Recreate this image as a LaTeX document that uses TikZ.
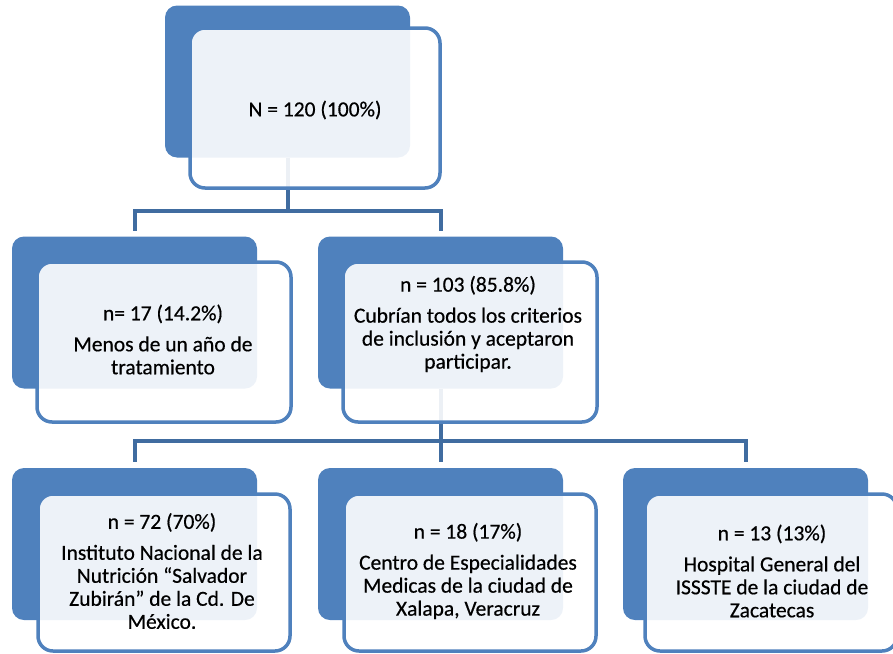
\documentclass[tikz,border=0pt]{standalone}
\usepackage{fontspec}
\setmainfont{Carlito}
\newfontfamily\boxfont[FakeBold=0.5]{Carlito}
\usepackage{tikz}
\definecolor{boxblue}{RGB}{79,129,189}
\definecolor{lineblue}{RGB}{64,108,160}
\tikzset{
  backbox/.style={fill=boxblue,rounded corners=12pt,minimum width=245pt,minimum height=152pt,inner sep=0pt},
  frontbox/.style={draw=boxblue,line width=3.5pt,fill=white,fill opacity=0.9,rounded corners=15pt,minimum width=252pt,minimum height=158pt,inner sep=0pt},
  txt/.style={align=center,font=\boxfont\fontsize{21.5}{23}\selectfont,text=black},
  link/.style={draw=lineblue,line width=4pt}
}
\begin{document}
\begin{tikzpicture}[x=1pt,y=-1pt]
\useasboundingbox (0,0) rectangle (893,653);
% back boxes
\node[backbox] (b0) at (287.5,81.5) {};
\node[backbox] (b1) at (134.5,312.5) {};
\node[backbox] (b2) at (440.5,312.5) {};
\node[backbox] (b3) at (134.5,544) {};
\node[backbox] (b4) at (440.5,544) {};
\node[backbox] (b5) at (745.5,544) {};
% connectors
\draw[link] (b0.south) -- (287.5,211) -| ([yshift=5pt]b1.north);
\draw[link] (287.5,211) -| ([yshift=5pt]b2.north);
\draw[link] (b2.south) -- (440.5,441) -| ([yshift=6pt]b3.north);
\draw[link] (440.5,441) -- ([yshift=6pt]b4.north);
\draw[link] (440.5,441) -| ([yshift=6pt]b5.north);
% front boxes
\node[frontbox,minimum width=250pt,minimum height=160pt] (f0) at (315,108) {};
\node[frontbox,minimum width=254pt,minimum height=160pt] (f1) at (164,342) {};
\node[frontbox,minimum width=254pt,minimum height=160pt] (f2) at (470,342) {};
\node[frontbox,minimum height=157pt] (f3) at (164,572.5) {};
\node[frontbox,minimum height=157pt] (f4) at (470,572.5) {};
\node[frontbox,minimum height=157pt] (f5) at (771,572.5) {};
% texts
\node[txt] (t0) at (315,110) {N = 120 (100\%)};
\node[txt] (t1) at (163,339.5) {n= 17 (14.2\%)\\[8pt]Menos de un año de\\tratamiento};
\node[txt] (t2) at (468,324) {n = 103 (85.8\%)\\[8pt]Cubrían todos los criterios\\de inclusión y aceptaron\\participar.};
\node[txt] (t3) at (162,571) {n = 72 (70\%)\\[8pt]Instituto Nacional de la\\Nutrición “Salvador\\Zubirán” de la Cd. De\\México.};
\node[txt] (t4) at (468,571) {n = 18 (17\%)\\[8pt]Centro de Especialidades\\Medicas de la ciudad de\\Xalapa, Veracruz};
\node[txt] (t5) at (772,571) {n = 13 (13\%)\\[8pt]Hospital General del\\ISSSTE de la ciudad de\\Zacatecas};
\end{tikzpicture}
\end{document}
